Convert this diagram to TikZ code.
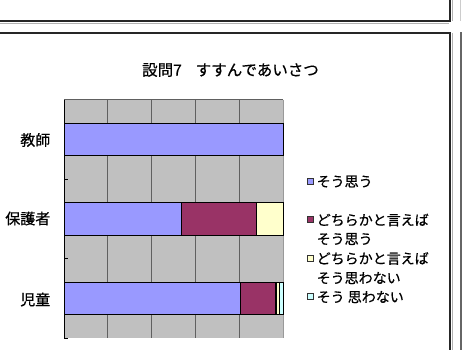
\documentclass[tikz,border=0pt]{standalone}
\usepackage{fontspec}
\newfontfamily\jp[FakeBold=0.6]{Noto Sans CJK JP}
\definecolor{cblue}{HTML}{9999FF}
\definecolor{cpurple}{HTML}{993366}
\definecolor{cyellow}{HTML}{FFFFCC}
\definecolor{ccyan}{HTML}{CCFFFF}
\definecolor{cgray}{HTML}{C0C0C0}
\definecolor{cgrid}{HTML}{606060}
\begin{document}
\begin{tikzpicture}[x=1pt,y=-1pt,
  bar/.style={draw=black,line width=0.9pt},
  grid/.style={draw=cgrid,line width=1pt},
  lab/.style={font=\jp\fontsize{15}{17}\selectfont,inner sep=0pt,anchor=east},
  leg/.style={font=\jp\fontsize{14}{16}\selectfont,inner sep=0pt,anchor=west},
  legbox/.style={draw=black!80,line width=0.6pt,minimum size=6pt,inner sep=0pt},
  panel/.style={draw=black!85,line width=1.2pt}]
\useasboundingbox (0,0) rectangle (462,349);
\fill[white] (0,0) rectangle (462,349);
% panels
\draw[black!30,line width=1pt] (-2,23) -- (449,23);
\draw[panel] (-2,21) -- (450,21) -- (450,-2);
\draw[black!30,line width=1pt] (452,-2) -- (452,21);
\draw[panel] (-2,33) -- (450,33) -- (450,351);
\draw[black!30,line width=1pt] (452,33) -- (452,351);
\draw[black!20,line width=0.8pt] (460.5,-2) -- (460.5,21);
\draw[black!60,line width=1.3pt] (461,32) -- (461,351);
\draw[black!60,line width=1pt] (461,32) -- (463,32);
% title
\node[font=\jp\fontsize{15.5}{18}\selectfont,inner sep=0pt] (title) at (230.5,70) {設問7\hspace{14pt}すすんであいさつ};
% plot area
\fill[cgray] (64,99.5) rectangle (283,338);
\foreach \i in {1,...,4} \draw[grid] (64+43.8*\i,99.5) -- (64+43.8*\i,338);
\draw[cgrid,line width=0.8pt] (64,99.5) -- (283,99.5);
\draw[black!40,line width=0.8pt] (283,99.5) -- (283,338);
% bars
\draw[bar,fill=cblue] (64,123) rectangle (283,155.5);
\draw[bar,fill=cblue] (64,202) rectangle (181,235);
\draw[bar,fill=cpurple] (181,202) rectangle (256,235);
\draw[bar,fill=cyellow] (256,202) rectangle (283,235);
\draw[bar,fill=cblue] (64,282) rectangle (240,314);
\draw[bar,fill=cpurple] (240,282) rectangle (275.8,314);
\draw[bar,fill=cyellow,line width=0.5pt] (275.8,282) rectangle (279,314);
\draw[bar,fill=ccyan,line width=0.5pt] (279,282) rectangle (283,314);
% axis
\draw[black,line width=1pt] (64,99.5) -- (64,338.5);
\foreach \y in {179,258.5,338} \draw[black,line width=0.8pt] (64,\y) -- (68,\y);
% category labels
\node[lab] (c1) at (50.5,140) {教師};
\node[lab] (c2) at (50.5,218.5) {保護者};
\node[lab] (c3) at (50.5,299.5) {児童};
% legend
\node[legbox,fill=cblue] (k1) at (310,181) {};
\node[leg] (t1) at (316.5,181.5) {そう思う};
\node[legbox,fill=cpurple] (k2) at (310,219.5) {};
\node[leg] (t2) at (316.5,220) {どちらかと言えば};
\node[leg] (t2b) at (316.5,239) {そう思う};
\node[legbox,fill=cyellow] (k3) at (310,258) {};
\node[leg] (t3) at (316.5,258.5) {どちらかと言えば};
\node[leg] (t3b) at (316.5,278) {そう思わない};
\node[legbox,fill=ccyan] (k4) at (310,296.5) {};
\node[leg] (t4) at (316.5,297) {そう 思わない};
\end{tikzpicture}
\end{document}
